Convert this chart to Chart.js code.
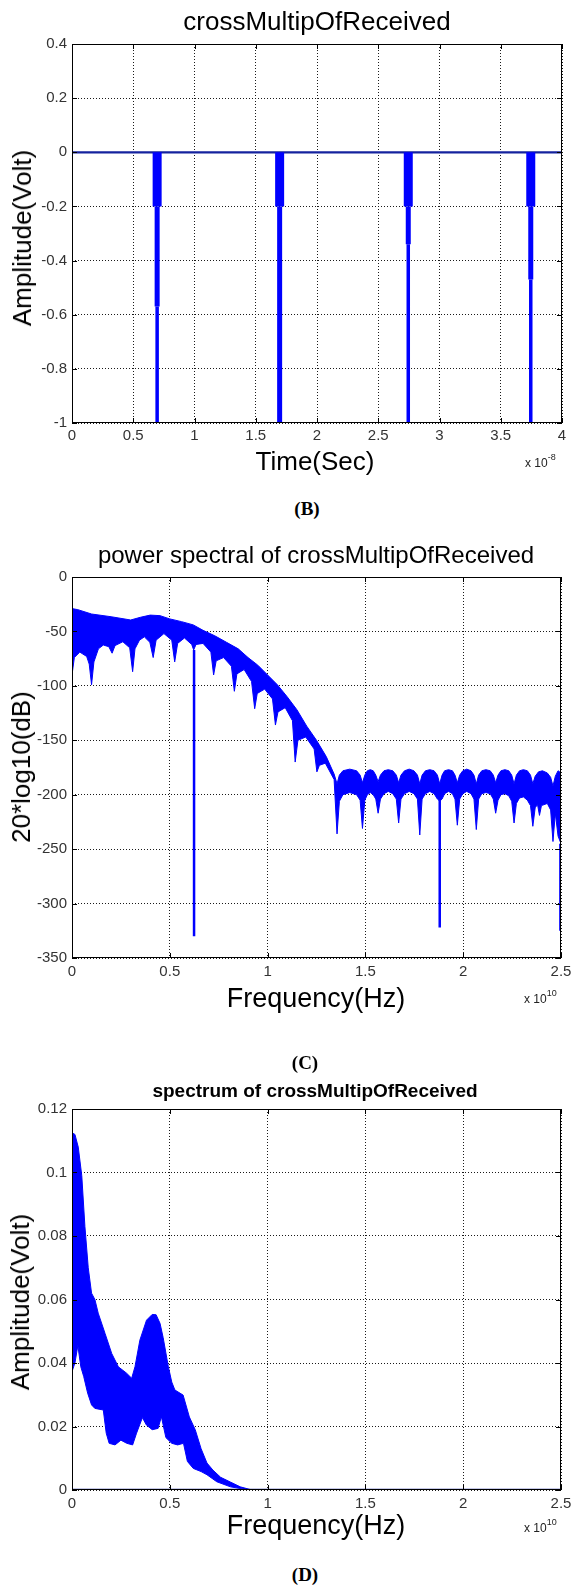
<!DOCTYPE html>
<html>
<head>
<meta charset="utf-8">
<script src="https://cdn.jsdelivr.net/npm/chart.js@4/dist/chart.umd.min.js"></script>
<style>
  body { margin: 0; background: #fff; }
  #page { position: relative; width: 571px; height: 1587px; overflow: hidden; font-family: "Liberation Sans", Arial, sans-serif; }
  canvas { position: absolute; left: 0; }
  .t { position: absolute; white-space: nowrap; color: #000; line-height: 1; transform: translate(-50%, -50%); }
  .yl { transform: translate(-50%, -50%) rotate(-90deg); }
  .cap { font-family: "Liberation Serif", "Times New Roman", serif; font-weight: bold; font-size: 19px; }
  .ex { position: absolute; white-space: nowrap; color: #222; font-size: 12px; line-height: 1; }
  .ex span { position: relative; top: -7px; font-size: 9px; }
</style>
</head>
<body>
<div id="page">
  <canvas id="chartB" width="571" height="453" style="top:0"></canvas>
  <canvas id="chartC" width="571" height="458" style="top:530px"></canvas>
  <canvas id="chartD" width="571" height="460" style="top:1060px"></canvas>

  <div class="t" style="left:317px;top:21px;font-size:26px">crossMultipOfReceived</div>
  <div class="t yl" style="left:22px;top:238px;font-size:26px">Amplitude(Volt)</div>
  <div class="t" style="left:315px;top:461px;font-size:26px">Time(Sec)</div>
  <div class="ex" style="left:525px;top:457px">x 10<span>-8</span></div>
  <div class="t cap" style="left:307px;top:508px">(B)</div>

  <div class="t" style="left:316px;top:555px;font-size:24px">power spectral of crossMultipOfReceived</div>
  <div class="t yl" style="left:21px;top:767px;font-size:26px">20*log10(dB)</div>
  <div class="t" style="left:316px;top:998px;font-size:27px">Frequency(Hz)</div>
  <div class="ex" style="left:524px;top:993px">x 10<span>10</span></div>
  <div class="t cap" style="left:305px;top:1062px">(C)</div>

  <div class="t" style="left:315px;top:1090px;font-size:19px;font-weight:bold">spectrum of crossMultipOfReceived</div>
  <div class="t yl" style="left:20px;top:1302px;font-size:26px">Amplitude(Volt)</div>
  <div class="t" style="left:316px;top:1525px;font-size:27px">Frequency(Hz)</div>
  <div class="ex" style="left:524px;top:1522px">x 10<span>10</span></div>
  <div class="t cap" style="left:305px;top:1574px">(D)</div>
</div>

<script>
// ---- (B) time signal, time in units of 1e-8 s ----
const bTimeTicks = [0, 0.5, 1, 1.5, 2, 2.5, 3, 3.5, 4];
const bTimeLabels = ['0', '0.5', '1', '1.5', '2', '2.5', '3', '3.5', '4'];
const bAmpTicks = [0.4, 0.2, 0, -0.2, -0.4, -0.6, -0.8, -1];
const bAmpLabels = ['0.4', '0.2', '0', '-0.2', '-0.4', '-0.6', '-0.8', '-1'];
const bBaseT = [0, 4];
const bBaseV = [0, 0];
const bSpikeT = [0.695, 1.695, 2.745, 3.745];
const bSpikeTop = [0, 0, 0, 0];
const bSpikeHead = [-0.2, -0.2, -0.2, -0.2];
const bSpikeNeck = [-0.57, -1, -0.34, -0.47];
const bSpikeTip = [-1, -1, -1, -1];

// ---- (C) power spectrum, frequency in units of 1e10 Hz ----
const cFreqTicks = [0, 0.5, 1, 1.5, 2, 2.5];
const cFreqLabels = ['0', '0.5', '1', '1.5', '2', '2.5'];
const cDbTicks = [0, -50, -100, -150, -200, -250, -300, -350];
const cDbLabels = ['0', '-50', '-100', '-150', '-200', '-250', '-300', '-350'];
const cUpperF = [0, 0.03, 0.1, 0.2, 0.3, 0.35, 0.4, 0.45, 0.5, 0.56, 0.62, 0.67, 0.73, 0.79, 0.85, 0.9, 0.95, 1.0, 1.05, 1.1, 1.15, 1.2, 1.25, 1.3, 1.34, 1.355,
  1.367, 1.385, 1.42, 1.455, 1.473, 1.485, 1.497, 1.51, 1.525, 1.54, 1.553, 1.565, 1.577, 1.595, 1.617, 1.64, 1.658, 1.67,
  1.682, 1.7, 1.724, 1.748, 1.766, 1.778, 1.79, 1.807, 1.829, 1.851, 1.868, 1.88, 1.892, 1.905, 1.925, 1.945, 1.958, 1.97,
  1.982, 1.998, 2.018, 2.04, 2.055, 2.067, 2.079, 2.095, 2.116, 2.138, 2.154, 2.166, 2.178, 2.193, 2.213, 2.233, 2.248, 2.26,
  2.272, 2.288, 2.308, 2.328, 2.344, 2.356, 2.368, 2.385, 2.405, 2.43, 2.447, 2.459, 2.471, 2.485, 2.5];
const cUpperDb = [-29, -30, -34, -36.5, -39.5, -37, -35, -35.5, -38.5, -41, -44, -49, -54, -60, -66, -74, -81, -90, -99, -110, -122, -137, -150, -165, -181, -190,
  -182, -178, -176.5, -178, -182, -189, -182, -178, -177, -178, -182, -188, -182, -178, -177, -178, -182, -189,
  -182, -178, -176.5, -178, -182, -190, -182, -178, -177, -178, -182, -190, -182, -178, -177, -178, -182, -189,
  -182, -178, -176.5, -178, -182, -190, -182, -178, -177, -178, -182, -189, -182, -178, -177, -178, -182, -190,
  -182, -178, -177, -178, -182, -190, -183, -179, -178, -180, -184, -192, -183, -178, -180];
const cLowerF = [0, 0.012, 0.04, 0.075, 0.088, 0.1, 0.112, 0.135, 0.16, 0.188, 0.205, 0.22, 0.26, 0.295, 0.31, 0.322, 0.345, 0.37, 0.398, 0.415, 0.43, 0.47,
  0.51, 0.525, 0.54, 0.575, 0.612, 0.622, 0.634, 0.67, 0.71, 0.724, 0.737, 0.775, 0.815, 0.83, 0.843, 0.88, 0.918, 0.934, 0.947, 0.985, 1.025, 1.04, 1.053,
  1.09, 1.127, 1.141, 1.155, 1.195, 1.238, 1.252, 1.265, 1.295, 1.34, 1.355,
  1.367, 1.385, 1.42, 1.455, 1.473, 1.485, 1.497, 1.51, 1.525, 1.54, 1.553, 1.565, 1.577, 1.595, 1.617, 1.64, 1.658, 1.67,
  1.682, 1.7, 1.724, 1.748, 1.766, 1.778, 1.79, 1.807, 1.829, 1.851, 1.868, 1.88, 1.892, 1.905, 1.925, 1.945, 1.958, 1.97,
  1.982, 1.998, 2.018, 2.04, 2.055, 2.067, 2.079, 2.095, 2.116, 2.138, 2.154, 2.166, 2.178, 2.193, 2.213, 2.233, 2.248, 2.26,
  2.272, 2.288, 2.308, 2.328, 2.344, 2.356, 2.368, 2.38, 2.39, 2.4, 2.43, 2.447, 2.459, 2.471, 2.485, 2.5];
const cLowerDb = [-90, -74, -69, -73, -80, -99, -78, -66, -62.5, -64, -70, -63, -59.5, -65, -87, -66, -58, -55, -60, -74, -58, -52,
  -58, -78, -61, -56, -62, -67, -62, -61, -69, -90, -77, -74, -82, -105, -89, -85, -96, -121, -107, -103, -112, -136, -124,
  -120, -132, -170, -150, -147, -158, -179, -173, -171, -186, -236,
  -206, -200, -198, -200, -205, -231, -205, -200, -198, -200, -204, -217, -204, -199, -197, -199, -204, -226,
  -204, -199, -197, -199, -204, -237, -204, -199, -197, -199, -204, -206, -204, -199, -197, -199, -204, -228,
  -204, -199, -197, -199, -204, -232, -204, -199, -198, -199, -204, -217, -205, -200, -199, -201, -206, -226,
  -208, -203, -202, -205, -210, -229, -212, -209, -219, -210, -208, -214, -243, -217, -238, -245];
const cSpikeF = [0.624, 1.88, 2.497];
const cSpikeTop = [-67, -205, -245];
const cSpikeDb = [-330, -322, -325];

// ---- (D) amplitude spectrum, frequency in units of 1e10 Hz ----
const dAmpTicks = [0.12, 0.1, 0.08, 0.06, 0.04, 0.02, 0];
const dAmpLabels = ['0.12', '0.1', '0.08', '0.06', '0.04', '0.02', '0'];
const dUpperF = [0, 0.015, 0.032, 0.05, 0.066, 0.083, 0.1, 0.117, 0.134, 0.169, 0.203, 0.237, 0.279, 0.305, 0.322, 0.347, 0.381, 0.41, 0.43, 0.45,
  0.466, 0.492, 0.51, 0.526, 0.568, 0.6, 0.63, 0.66, 0.69, 0.72, 0.76, 0.81, 0.86, 0.92];
const dUpperV = [0.1125, 0.112, 0.108, 0.099, 0.083, 0.07, 0.062, 0.06, 0.0557, 0.0493, 0.043, 0.0388, 0.0368, 0.0352, 0.0388, 0.0472, 0.0535, 0.0553, 0.0552, 0.0525,
  0.048, 0.039, 0.034, 0.0315, 0.0299, 0.023, 0.019, 0.013, 0.0085, 0.0063, 0.004, 0.0025, 0.001, 0];
const dLowerF = [0, 0.015, 0.03, 0.045, 0.06, 0.08, 0.1, 0.117, 0.16, 0.175, 0.19, 0.22, 0.25, 0.28, 0.31, 0.33, 0.36, 0.38, 0.41, 0.44, 0.457,
  0.48, 0.51, 0.54, 0.57, 0.59, 0.62, 0.66, 0.69, 0.74, 0.81, 0.875, 0.92];
const dLowerV = [0.0373, 0.04, 0.0455, 0.0388, 0.0357, 0.0305, 0.0268, 0.0257, 0.0252, 0.0179, 0.0147, 0.0142, 0.0157, 0.0147, 0.0142, 0.0179, 0.0228,
  0.0205, 0.019, 0.0194, 0.0231, 0.0165, 0.0147, 0.0142, 0.0147, 0.009, 0.0068, 0.0058, 0.0048, 0.0026, 0.001, 0.0003, 0];
const dBaseF = [0, 2.5];
const dBaseV = [0, 0];

const BLUE = '#0000ff';
const NAVY = '#14229e';

const pts = (xs, ys) => xs.map((x, i) => ({ x, y: ys[i] }));
// vertical strokes, one per spike, separated by gaps
const strokes = (xs, from, to) => xs.flatMap((x, i) => [{ x, y: from[i] }, { x, y: to[i] }, { x, y: null }]);

// MATLAB style axes box with inward tick marks
const matlabBox = {
  id: 'matlabBox',
  afterDatasetsDraw(chart) {
    const { ctx, chartArea: a, scales } = chart;
    ctx.save();
    ctx.strokeStyle = '#000';
    ctx.lineWidth = 1;
    ctx.strokeRect(a.left + 0.5, a.top + 0.5, a.right - a.left - 1, a.bottom - a.top - 1);
    ctx.beginPath();
    scales.x.ticks.forEach(t => {
      const px = Math.round(scales.x.getPixelForValue(t.value)) + 0.5;
      ctx.moveTo(px, a.bottom); ctx.lineTo(px, a.bottom - 5);
      ctx.moveTo(px, a.top); ctx.lineTo(px, a.top + 5);
    });
    scales.y.ticks.forEach(t => {
      const py = Math.round(scales.y.getPixelForValue(t.value)) + 0.5;
      ctx.moveTo(a.left, py); ctx.lineTo(a.left + 5, py);
      ctx.moveTo(a.right, py); ctx.lineTo(a.right - 5, py);
    });
    ctx.stroke();
    ctx.restore();
  }
};

function axis(min, max, ticks, labels, horizontal, pad) {
  return {
    type: 'linear',
    min, max,
    afterBuildTicks: s => { s.ticks = ticks.map(v => ({ value: v })); },
    afterFit: s => {
      if (horizontal) { s.height = 30; s.paddingLeft = 0; s.paddingRight = 0; }
      else { s.width = 72; s.paddingTop = 0; s.paddingBottom = 0; }
    },
    grid: { color: '#1a1a1a', lineWidth: 1, drawTicks: false },
    border: { display: false, dash: [1, 2] },
    ticks: {
      font: { family: 'Liberation Sans', size: 15 },
      color: '#333',
      padding: pad,
      autoSkip: false,
      maxRotation: 0,
      callback: (v, i) => labels[i]
    }
  };
}

function makeChart(id, datasets, xAxis, yAxis, padding) {
  return new Chart(document.getElementById(id), {
    type: 'line',
    data: { datasets },
    options: {
      responsive: false,
      devicePixelRatio: 1,
      animation: false,
      layout: { padding },
      elements: { point: { radius: 0 }, line: { tension: 0, borderCapStyle: 'butt' } },
      plugins: { legend: { display: false }, tooltip: { enabled: false } },
      scales: { x: xAxis, y: yAxis }
    },
    plugins: [matlabBox]
  });
}

makeChart('chartB', [
  { data: strokes(bSpikeT, bSpikeTop, bSpikeHead), borderColor: BLUE, borderWidth: 9 },
  { data: strokes(bSpikeT, bSpikeHead, bSpikeNeck), borderColor: BLUE, borderWidth: 5 },
  { data: strokes(bSpikeT, bSpikeNeck, bSpikeTip), borderColor: BLUE, borderWidth: 3.5 },
  { data: pts(bBaseT, bBaseV), borderColor: NAVY, borderWidth: 2.2 }
], axis(0, 4, bTimeTicks, bTimeLabels, true, 4), axis(-1, 0.4, bAmpTicks, bAmpLabels, false, 5),
  { top: 44, right: 9, left: 0, bottom: 0 });

makeChart('chartC', [
  { data: strokes(cSpikeF, cSpikeTop, cSpikeDb), borderColor: BLUE, borderWidth: 2.5 },
  { data: pts(cUpperF, cUpperDb), borderColor: BLUE, borderWidth: 1 },
  { data: pts(cLowerF, cLowerDb), borderColor: BLUE, borderWidth: 1, backgroundColor: BLUE, fill: '-1' }
], axis(0, 2.5, cFreqTicks, cFreqLabels, true, 5), axis(-350, 0, cDbTicks, cDbLabels, false, 5),
  { top: 47, right: 10, left: 0, bottom: 0 });

makeChart('chartD', [
  { data: pts(dBaseF, dBaseV), borderColor: NAVY, borderWidth: 2.5 },
  { data: pts(dUpperF, dUpperV), borderColor: BLUE, borderWidth: 1 },
  { data: pts(dLowerF, dLowerV), borderColor: BLUE, borderWidth: 1, backgroundColor: BLUE, fill: '-1' }
], axis(0, 2.5, cFreqTicks, cFreqLabels, true, 5), axis(0, 0.12, dAmpTicks, dAmpLabels, false, 5),
  { top: 49, right: 10, left: 0, bottom: 0 });
</script>
</body>
</html>
